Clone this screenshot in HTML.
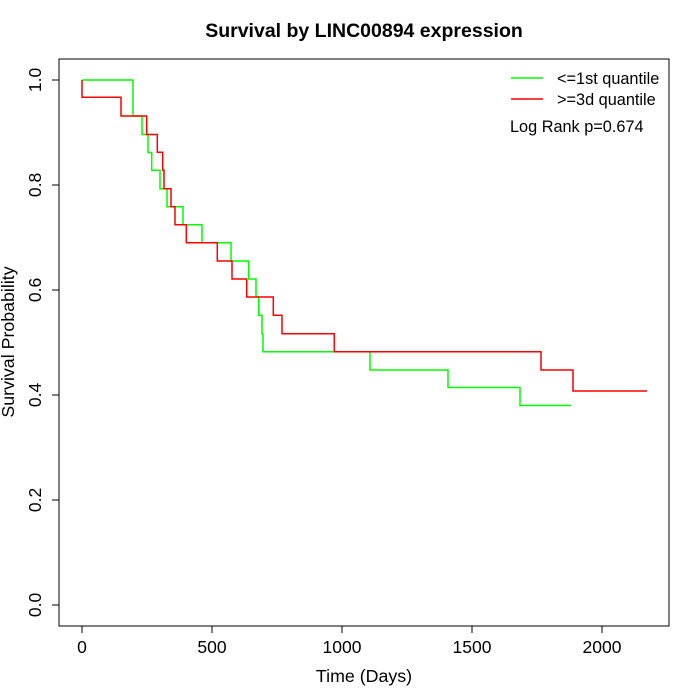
<!DOCTYPE html>
<html><head><meta charset="utf-8"><style>body{margin:0;background:#fff}svg{display:block}</style></head>
<body>
<svg width="700" height="700" xmlns="http://www.w3.org/2000/svg" font-family="Liberation Sans, sans-serif">
<rect width="700" height="700" fill="#fff"/>
<text x="364" y="37" text-anchor="middle" font-weight="bold" font-size="19.5">Survival by LINC00894 expression</text>
<rect x="59" y="59" width="610" height="567" fill="none" stroke="#000" stroke-width="1"/>
<g stroke="#000" stroke-width="1">
<line x1="82" y1="626" x2="82" y2="633"/><line x1="212" y1="626" x2="212" y2="633"/><line x1="342" y1="626" x2="342" y2="633"/><line x1="472" y1="626" x2="472" y2="633"/><line x1="602" y1="626" x2="602" y2="633"/>
<line x1="52" y1="605" x2="59" y2="605"/><line x1="52" y1="500" x2="59" y2="500"/><line x1="52" y1="395" x2="59" y2="395"/><line x1="52" y1="290" x2="59" y2="290"/><line x1="52" y1="185" x2="59" y2="185"/><line x1="52" y1="80" x2="59" y2="80"/>
</g>
<g font-size="17.5" text-anchor="middle">
<text x="82" y="653">0</text><text x="212" y="653">500</text><text x="342" y="653">1000</text><text x="472" y="653">1500</text><text x="602" y="653">2000</text>
<text x="364" y="682" font-size="17.8">Time (Days)</text>
<g transform="translate(41,605) rotate(-90)"><text>0.0</text></g>
<g transform="translate(41,500) rotate(-90)"><text>0.2</text></g>
<g transform="translate(41,395) rotate(-90)"><text>0.4</text></g>
<g transform="translate(41,290) rotate(-90)"><text>0.6</text></g>
<g transform="translate(41,185) rotate(-90)"><text>0.8</text></g>
<g transform="translate(41,80) rotate(-90)"><text>1.0</text></g>
<g transform="translate(14,342) rotate(-90)"><text font-size="17.8">Survival Probability</text></g>
</g>
<polyline fill="none" stroke="#00ff00" stroke-width="1.5" points="82,80 133,80 133,116 142,116 142,134.5 148,134.5 148,152.5 151.7,152.5 151.7,170.3 160,170.3 160,188.7 167,188.7 167,206.7 183,206.7 183,224.7 202,224.7 202,242.7 231,242.7 231,261 248.7,261 248.7,279 256,279 256,297 258.7,297 258.7,315.3 262,315.3 262,334 263,334 263,351.7 370,351.7 370,370 448,370 448,387.5 520,387.5 520,405.5 571,405.5"/>
<polyline fill="none" stroke="#ff0000" stroke-width="1.5" points="82,80 82,97.3 121,97.3 121,116 146.7,116 146.7,134.5 157.3,134.5 157.3,152.3 162.7,152.3 162.7,170.3 164,170.3 164,188.7 171,188.7 171,206.7 175,206.7 175,224.7 186.3,224.7 186.3,242.7 217.3,242.7 217.3,261 232,261 232,279 246.7,279 246.7,297 273.3,297 273.3,315.3 282,315.3 282,333.7 334.3,333.7 334.3,351.7 541,351.7 541,370 573,370 573,391 647,391"/>
<line x1="511" y1="78" x2="543" y2="78" stroke="#00ff00" stroke-width="1.5"/>
<line x1="511" y1="99" x2="543" y2="99" stroke="#ff0000" stroke-width="1.5"/>
<g font-size="16.3">
<text x="557" y="84">&lt;=1st quantile</text>
<text x="557" y="105">&gt;=3d quantile</text>
<text x="510" y="132">Log Rank p=0.674</text>
</g>
</svg>
</body></html>
